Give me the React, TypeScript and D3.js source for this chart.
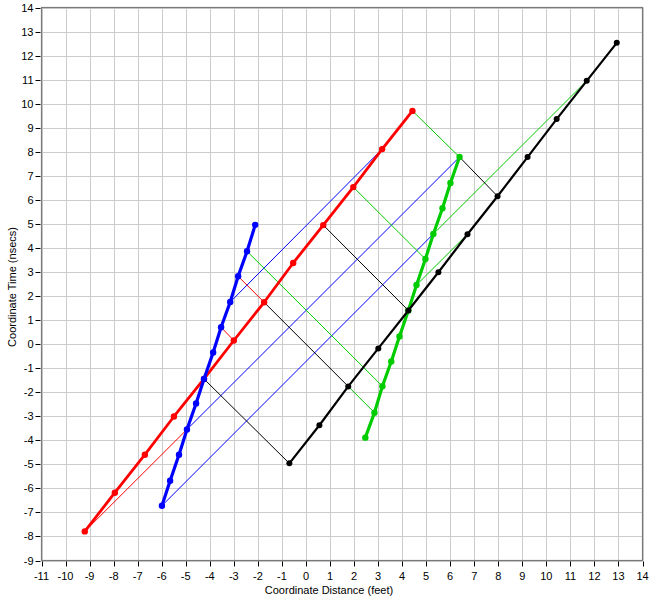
import React from 'react';
import * as d3 from 'd3';

const xTicks = [-11, -10, -9, -8, -7, -6, -5, -4, -3, -2, -1, 0, 1, 2, 3, 4, 5, 6, 7, 8, 9, 10, 11, 12, 13, 14];
const yTicks = [-9, -8, -7, -6, -5, -4, -3, -2, -1, 0, 1, 2, 3, 4, 5, 6, 7, 8, 9, 10, 11, 12, 13, 14];

const redX = [-9.2, -7.95, -6.7, -5.49, -4.24, -3.0, -1.74, -0.53, 0.72, 1.97, 3.17, 4.43];
const redT = [-7.79, -6.18, -4.6, -3.01, -1.45, 0.15, 1.74, 3.375, 4.95, 6.53, 8.11, 9.7];

const blueX = [-5.99, -5.65, -5.28, -4.95, -4.57, -4.24, -3.86, -3.53, -3.15, -2.82, -2.45, -2.11];
const blueT = [-6.72, -5.68, -4.6, -3.55, -2.47, -1.45, -0.35, 0.7, 1.75, 2.82, 3.86, 4.96];

const greenX = [2.47, 2.85, 3.18, 3.55, 3.89, 4.26, 4.6, 4.97, 5.3, 5.68, 6.01, 6.39];
const greenT = [-3.89, -2.85, -1.75, -0.72, 0.32, 1.4, 2.46, 3.54, 4.58, 5.65, 6.7, 7.78];

const blackX = [-0.69, 0.56, 1.76, 3.01, 4.26, 5.51, 6.72, 7.97, 9.22, 10.43, 11.68, 12.93];
const blackT = [-4.96, -3.375, -1.76, -0.18, 1.4, 2.99, 4.57, 6.15, 7.78, 9.36, 10.95, 12.53];

// light signals: emitter series/index -> receiver series/index
const sigFrom = ['red', 'blue', 'green', 'blue', 'blue', 'green', 'black', 'black', 'black', 'black', 'red', 'red', 'green', 'green', 'green', 'green'];
const sigFromIdx = [0, 0, 8, 3, 8, 6, 0, 2, 4, 7, 5, 6, 1, 2, 7, 11];
const sigTo = ['blue', 'green', 'black', 'green', 'red', 'black', 'red', 'red', 'red', 'green', 'blue', 'blue', 'black', 'blue', 'red', 'red'];
const sigToIdx = [3, 8, 10, 11, 10, 6, 4, 6, 8, 11, 7, 9, 2, 10, 9, 11];

const xLabel = 'Coordinate Distance (feet)';
const yLabel = 'Coordinate Time (nsecs)';

const W = 653;
const H = 600;
const L = 41.5, R = 642.5, T = 7.5, B = 560.5;

const colors: Record<string, string> = { red: '#ff0000', blue: '#0000ff', green: '#00cc00', black: '#000000' };
const seriesData: Record<string, { x: number[]; t: number[] }> = {
  red: { x: redX, t: redT },
  blue: { x: blueX, t: blueT },
  green: { x: greenX, t: greenT },
  black: { x: blackX, t: blackT },
};

export default function App() {
  const x = d3.scaleLinear().domain([-11, 14]).range([L, R]);
  const y = d3.scaleLinear().domain([-9, 14]).range([B, T]);
  const line = d3.line<[number, number]>().x(d => x(d[0])).y(d => y(d[1]));
  const font = "'Liberation Sans', Arial, sans-serif";

  const thick = (name: string, width: number, r: number) => {
    const s = seriesData[name];
    const pts: [number, number][] = s.x.map((v, i) => [v, s.t[i]]);
    return (
      <g key={name}>
        <path d={line(pts) || ''} fill="none" stroke={colors[name]} strokeWidth={width} strokeLinejoin="round" />
        {pts.map((p, i) => (
          <circle key={i} cx={x(p[0])} cy={y(p[1])} r={r} fill={colors[name]} />
        ))}
      </g>
    );
  };

  return (
    <svg width={W} height={H} style={{ position: 'absolute', left: 0, top: 0, background: '#fff' }}>
      <rect x={0} y={0} width={W} height={H} fill="#fff" />
      {xTicks.map(v => (
        <line key={'gx' + v} x1={Math.round(x(v)) + 0.5} x2={Math.round(x(v)) + 0.5} y1={T} y2={B} stroke="#cccccc" strokeWidth={1} />
      ))}
      {yTicks.map(v => (
        <line key={'gy' + v} x1={L} x2={R} y1={Math.round(y(v)) + 0.5} y2={Math.round(y(v)) + 0.5} stroke="#cccccc" strokeWidth={1} />
      ))}
      {sigFrom.map((f, i) => {
        const a = seriesData[f];
        const b = seriesData[sigTo[i]];
        return (
          <line key={'s' + i}
            x1={x(a.x[sigFromIdx[i]])} y1={y(a.t[sigFromIdx[i]])}
            x2={x(b.x[sigToIdx[i]])} y2={y(b.t[sigToIdx[i]])}
            stroke={colors[f]} strokeWidth={1} />
        );
      })}
      {thick('red', 2.8, 3.2)}
      {thick('blue', 3.2, 3.2)}
      {thick('green', 3.2, 3.2)}
      {thick('black', 2.2, 3)}
      <rect x={L} y={T} width={R - L} height={B - T} fill="none" stroke="#7a7a7a" strokeWidth={1.2} />
      {xTicks.map(v => (
        <g key={'tx' + v}>
          <line x1={Math.round(x(v)) + 0.5} x2={Math.round(x(v)) + 0.5} y1={B + 1} y2={B + 6} stroke="#000" />
          <text x={x(v)} y={B + 19} textAnchor="middle" fontFamily={font} fontSize={11} fill="#000">{String(v)}</text>
        </g>
      ))}
      {yTicks.map(v => (
        <g key={'ty' + v}>
          <line x1={L - 6} x2={L - 1} y1={Math.round(y(v)) + 0.5} y2={Math.round(y(v)) + 0.5} stroke="#000" />
          <text x={L - 8} y={y(v) + 4} textAnchor="end" fontFamily={font} fontSize={11} fill="#000">{String(v)}</text>
        </g>
      ))}
      <text x={329} y={594} textAnchor="middle" fontFamily={font} fontSize={11} fill="#000">{xLabel}</text>
      <text transform="translate(16,287) rotate(-90)" textAnchor="middle" fontFamily={font} fontSize={11} fill="#000">{yLabel}</text>
    </svg>
  );
}
